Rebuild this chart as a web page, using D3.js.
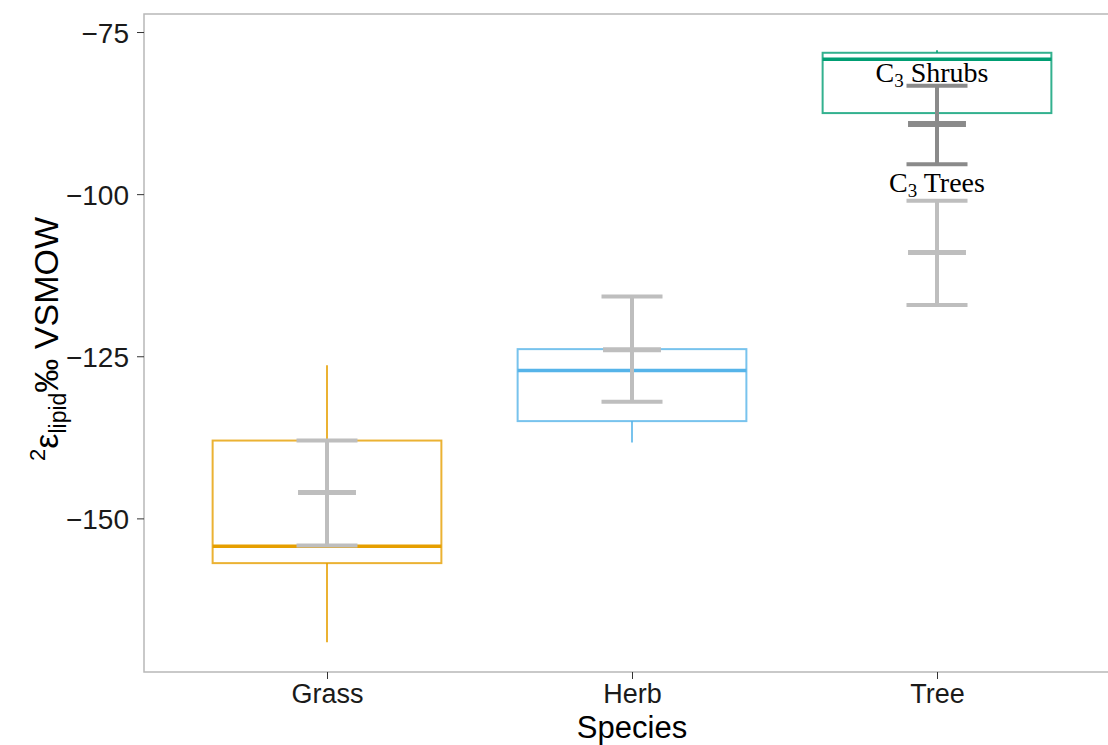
<!DOCTYPE html>
<html><head><meta charset="utf-8">
<script src="https://cdn.jsdelivr.net/npm/d3@7"></script>
<style>html,body{margin:0;padding:0;background:#fff;}svg{display:block;}</style>
</head><body>
<svg id="chart" width="1108" height="745"></svg>
<script>
// ---- data ----
const categories = ["Grass", "Herb", "Tree"];
const boxColors = ["#E69F00", "#56B4E9", "#009E73"];
const whiskerLow  = [-169.1, -138.3, -91.0];
const q1          = [-156.9, -135.0, -87.5];
const medians     = [-154.3, -127.2, -79.2];
const q3          = [-138.0, -123.9, -78.2];
const whiskerHigh = [-126.4, -120.0, -77.8];

// error bars (mean ± range) over the boxes
const errCategory = ["Grass", "Herb", "Tree", "Tree"];
const errMean     = [-146.0, -124.0, -89.2, -109.0];
const errLow      = [-154.2, -132.0, -95.4, -117.1];
const errHigh     = [-138.0, -115.8, -83.3, -101.0];
const errColor    = ["#BEBEBE", "#BEBEBE", "#8A8A8A", "#BEBEBE"];

const yTicks = [-150, -125, -100, -75];
const annoLabels = [{main: "C", sub: "3", rest: " Shrubs"}, {main: "C", sub: "3", rest: " Trees"}];
const annoY = [-81.2, -98.1];
const annoDx = [-5, 0];

// ---- layout ----
const svg = d3.select("#chart");
const panel = {left: 144, top: 14, bottom: 672, right: 1120};

const x = d3.scaleLinear().domain([0.4, 3.6]).range([panel.left, panel.right]);
const y = d3.scaleLinear().domain([-173.69, -72.22]).range([panel.bottom, panel.top]);

// panel border
const g = svg.append("g");
g.append("path")
  .attr("d", `M${panel.right + 10},${panel.top}H${panel.left}V${panel.bottom}H${panel.right + 10}`)
  .attr("fill", "none").attr("stroke", "#B8B8B8").attr("stroke-width", 1.5);

// y axis
const yAxis = d3.axisLeft(y).tickValues(yTicks).tickSize(7).tickPadding(8)
  .tickFormat(d => d3.format("d")(d).replace("-", "\u2212"));
const ya = svg.append("g").attr("transform", `translate(${panel.left},0)`).call(yAxis);
ya.select(".domain").remove();
ya.selectAll(".tick line").attr("stroke", "#333").attr("stroke-width", 1);
ya.selectAll(".tick text").attr("font-family", "Liberation Sans, Arial, sans-serif")
  .attr("font-size", 28).attr("fill", "#1a1a1a").attr("dy", "0.36em");

// x axis
const xAxis = d3.axisBottom(x).tickValues([1, 2, 3]).tickSize(7).tickPadding(5)
  .tickFormat(d => categories[d - 1]);
const xa = svg.append("g").attr("transform", `translate(0,${panel.bottom})`).call(xAxis);
xa.select(".domain").remove();
xa.selectAll(".tick line").attr("stroke", "#333").attr("stroke-width", 1);
xa.selectAll(".tick text").attr("font-family", "Liberation Sans, Arial, sans-serif")
  .attr("font-size", 27).attr("fill", "#1a1a1a").attr("dy", "0.72em");

// axis titles
svg.append("text").attr("x", (x(2))).attr("y", 738)
  .attr("text-anchor", "middle").attr("font-family", "Liberation Sans, Arial, sans-serif")
  .attr("font-size", 31).attr("fill", "#000").text("Species");

const yt = svg.append("text")
  .attr("transform", `translate(58,${(panel.top + panel.bottom) / 2 - 4}) rotate(-90)`)
  .attr("text-anchor", "middle").attr("font-family", "Liberation Sans, Arial, sans-serif")
  .attr("font-size", 34).attr("fill", "#000");
yt.append("tspan").attr("font-size", 22).attr("dy", -13).text("2");
yt.append("tspan").attr("dy", 13).text("\u03B5");
yt.append("tspan").attr("font-size", 23).attr("dy", 8).text("lipid");
yt.append("tspan").attr("dy", -8).text("\u2030 VSMOW");

// boxplots
const boxW = 0.75;
const boxes = svg.append("g");
categories.forEach((c, i) => {
  const cx = x(i + 1);
  const x0 = x(i + 1 - boxW / 2), x1 = x(i + 1 + boxW / 2);
  const col = boxColors[i];
  const bg = boxes.append("g");
  bg.append("line").attr("x1", cx).attr("x2", cx).attr("y1", y(whiskerHigh[i])).attr("y2", y(q3[i]))
    .attr("stroke", col).attr("stroke-width", 2).attr("stroke-opacity", 0.8);
  bg.append("line").attr("x1", cx).attr("x2", cx).attr("y1", y(q1[i])).attr("y2", y(whiskerLow[i]))
    .attr("stroke", col).attr("stroke-width", 2).attr("stroke-opacity", 0.8);
  bg.append("rect").attr("x", x0).attr("y", y(q3[i])).attr("width", x1 - x0).attr("height", y(q1[i]) - y(q3[i]))
    .attr("fill", "none").attr("stroke", col).attr("stroke-width", 2).attr("stroke-opacity", 0.8);
  bg.append("line").attr("x1", x0).attr("x2", x1).attr("y1", y(medians[i])).attr("y2", y(medians[i]))
    .attr("stroke", col).attr("stroke-width", 3.5);
});

// error bars
const capHalf = 0.1;
const eb = svg.append("g");
errCategory.forEach((c, i) => {
  const ci = categories.indexOf(c) + 1;
  const col = errColor[i];
  eb.append("line").attr("x1", x(ci)).attr("x2", x(ci)).attr("y1", y(errHigh[i])).attr("y2", y(errLow[i]))
    .attr("stroke", col).attr("stroke-width", 4);
  [errHigh[i], errLow[i]].forEach(v => {
    eb.append("line").attr("x1", x(ci - capHalf)).attr("x2", x(ci + capHalf)).attr("y1", y(v)).attr("y2", y(v))
      .attr("stroke", col).attr("stroke-width", 4);
  });
  eb.append("line").attr("x1", x(ci - capHalf * 0.95)).attr("x2", x(ci + capHalf * 0.95))
    .attr("y1", y(errMean[i])).attr("y2", y(errMean[i]))
    .attr("stroke", col).attr("stroke-width", col === "#8A8A8A" ? 6 : 5);
});

// annotations
annoLabels.forEach((a, i) => {
  const t = svg.append("text").attr("x", x(3) + annoDx[i]).attr("y", y(annoY[i])).attr("dy", "0.35em")
    .attr("text-anchor", "middle").attr("font-family", "Liberation Serif, Times New Roman, serif")
    .attr("font-size", 28).attr("fill", "#000");
  t.append("tspan").text(a.main);
  t.append("tspan").attr("font-size", 19).attr("dy", 5).text(a.sub);
  t.append("tspan").attr("dy", -5).text(a.rest);
});
</script>
</body></html>
